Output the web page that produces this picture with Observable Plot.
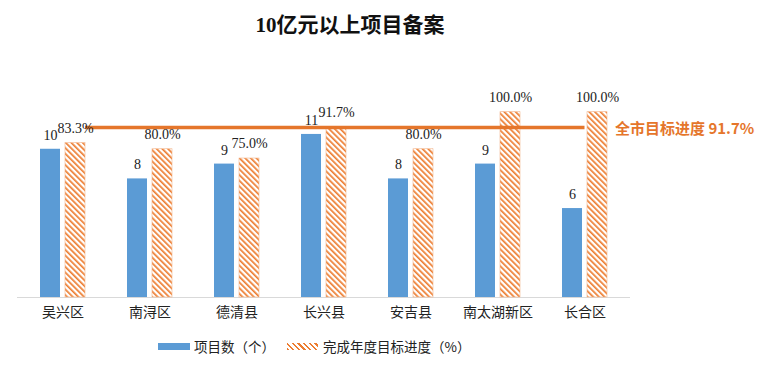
<!DOCTYPE html>
<html>
<head>
<meta charset="utf-8">
<script src="https://cdn.jsdelivr.net/npm/d3@7"></script>
<script src="https://cdn.jsdelivr.net/npm/@observablehq/plot@0.6"></script>
<style>
  body { margin: 0; background: #fff; width: 768px; height: 366px; overflow: hidden; }
  #title { width: 700px; height: 50px; line-height: 50px; text-align: center;
    font-family: "Liberation Serif", "Noto Sans CJK SC", serif; font-weight: bold; font-size: 21px; color: #111; }
  #legend { height: 22px; display: flex; align-items: center; padding-left: 158px;
    font-family: "Noto Sans CJK SC", serif; font-size: 13.5px; color: #222; }
  .sw { width: 32px; height: 7px; margin-right: 4px; }
  .sw.blue { background: #5B9BD5; }
  .sw.hatch { background: repeating-linear-gradient(45deg, #ED7D31 0 1.6px, #fff 1.6px 4px); margin-left: 12px; width: 31px; margin-right: 5px; }
</style>
</head>
<body>
<div id="title">10亿元以上项目备案</div>
<div id="chart"></div>
<div id="legend"><div class="sw blue"></div><span>项目数（个）</span><div class="sw hatch"></div><span>完成年度目标进度（%）</span></div>
<script>
const categories = ["吴兴区", "南浔区", "德清县", "长兴县", "安吉县", "南太湖新区", "长合区"];
const counts = [10, 8, 9, 11, 8, 9, 6];
const progress = [83.3, 80.0, 75.0, 91.7, 80.0, 100.0, 100.0];
const target = 91.7;
const countAxisMax = 12.5;   // secondary axis max for counts
const percentAxisMax = 100;  // primary axis max for percentages

const data = categories.map((c, i) => ({cat: c, count: counts[i], pct: progress[i]}));
const cy = d => d.count / countAxisMax * percentAxisMax;

const orange = "#ED7D31";
const lineOrange = "#E5762B";
const blue = "#5B9BD5";

const defs = () => {
  const ns = "http://www.w3.org/2000/svg";
  const d = document.createElementNS(ns, "defs");
  const p = document.createElementNS(ns, "pattern");
  p.setAttribute("id", "hatch");
  p.setAttribute("patternUnits", "userSpaceOnUse");
  p.setAttribute("width", "4");
  p.setAttribute("height", "4");
  p.setAttribute("patternTransform", "rotate(-45)");
  const r = document.createElementNS(ns, "rect");
  r.setAttribute("width", "4"); r.setAttribute("height", "4"); r.setAttribute("fill", "#fff");
  const l = document.createElementNS(ns, "rect");
  l.setAttribute("width", "1.7"); l.setAttribute("height", "4"); l.setAttribute("fill", orange);
  p.appendChild(r); p.appendChild(l); d.appendChild(p);
  return d;
};

const bw = 45;
const serif = "'Liberation Serif', 'Noto Sans CJK SC', serif";
const chart = Plot.plot({
  width: 768,
  height: 285,
  marginTop: 61.7,
  marginBottom: 38,
  marginLeft: 17,
  marginRight: 138,
  style: {fontFamily: serif, fontSize: "14px", color: "#222", background: "#fff", overflow: "visible"},
  x: {domain: categories, paddingInner: 0.486, paddingOuter: 0.243, label: null},
  y: {domain: [0, percentAxisMax], axis: null},
  marks: [
    defs,
    Plot.ruleY([0], {stroke: "#d9d9d9", strokeWidth: 1}),
    Plot.barY(data, {x: "cat", y: cy, fill: blue, insetRight: bw / 2 + 2.5}),
    Plot.barY(data, {x: "cat", y: "pct", fill: "url(#hatch)", stroke: "#F2B48A", strokeWidth: 0.6, insetLeft: bw / 2 + 2.5}),
    Plot.ruleY([target], {x1: () => categories[0], x2: () => categories[categories.length - 1], y: d => d,
      stroke: lineOrange, strokeWidth: 3.5, insetLeft: bw, insetRight: bw / 2}),
    Plot.text(data, {x: "cat", y: cy, text: d => String(d.count), dx: -12.5, dy: -14, fill: "#222", fontSize: 14, fontFamily: serif}),
    Plot.text(data, {x: "cat", y: "pct", text: d => d.pct.toFixed(1) + "%", dx: 12.5, dy: -15, fill: "#222", fontSize: 14, fontFamily: serif}),
    Plot.text([target], {x: () => categories[categories.length - 1], y: d => d, text: d => `全市目标进度 ${d}%`,
      dx: 30, dy: 2, textAnchor: "start", fill: lineOrange, fontWeight: "bold", fontSize: 15,
      fontFamily: "'Noto Sans CJK SC', sans-serif"}),
    Plot.axisX({tickSize: 0, tickPadding: 10, fontSize: 14, fill: "#222", fontFamily: "'Noto Sans CJK SC', serif"})
  ]
});
document.getElementById("chart").appendChild(chart);
</script>
</body>
</html>
